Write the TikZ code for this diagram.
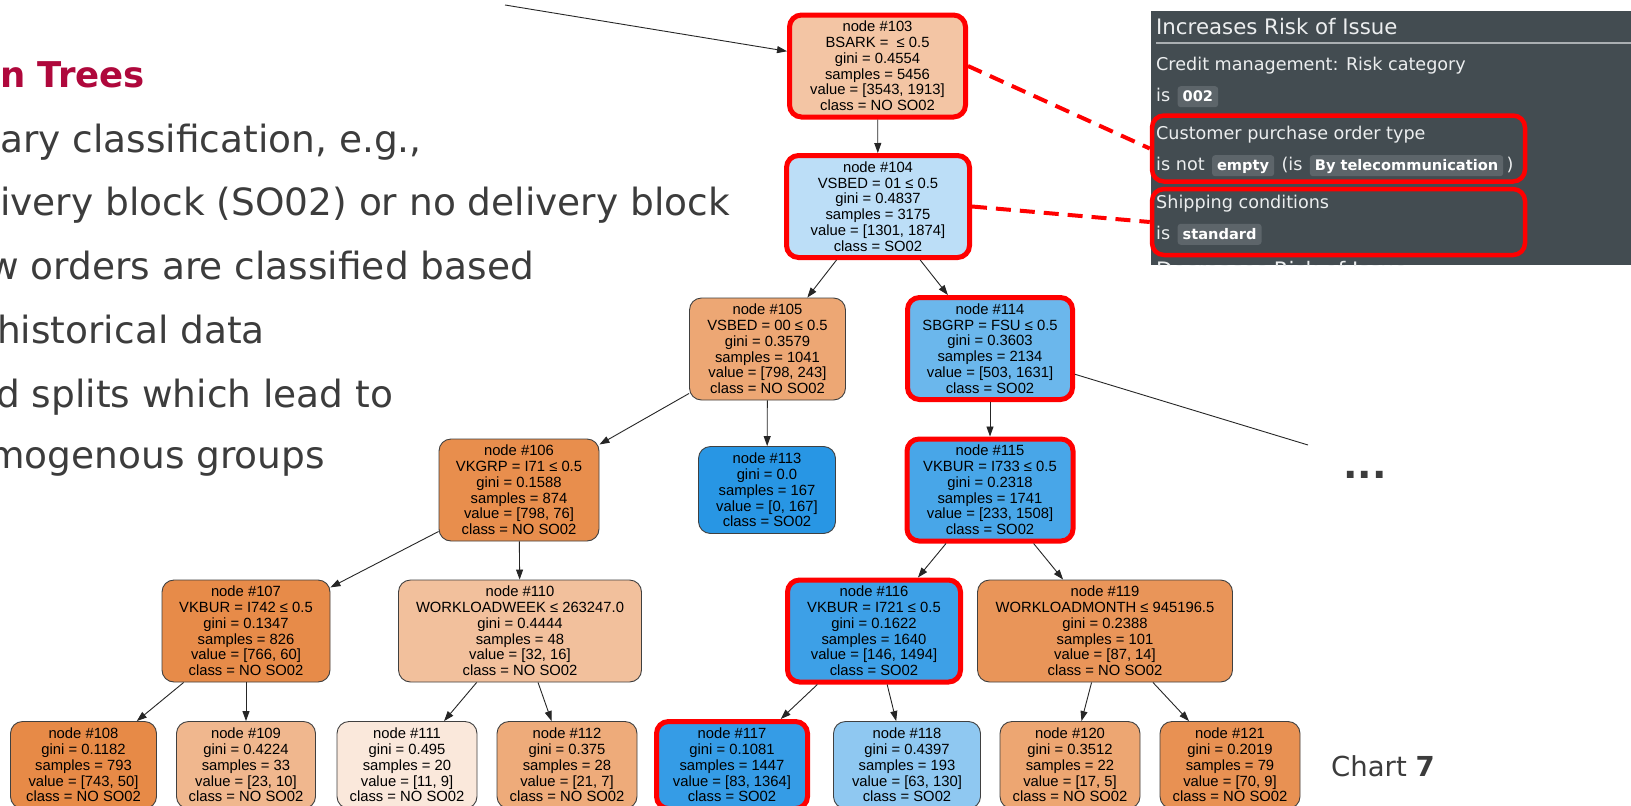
\documentclass[tikz,border=0pt]{standalone}
\usepackage{xcolor}
\usepackage{fontspec}
\setmainfont{Liberation Sans}
\newfontfamily\slidefont{DejaVu Sans}
\usepackage{tikz}
\usetikzlibrary{positioning,arrows.meta}
\definecolor{nocls}{RGB}{229,129,57}
\definecolor{socls}{RGB}{40,150,228}
\definecolor{slidered}{RGB}{175,8,60}
\definecolor{slidegray}{RGB}{60,60,60}
\definecolor{panelbg}{RGB}{67,76,81}
\definecolor{panelrule}{RGB}{170,175,178}
\definecolor{badgebg}{RGB}{93,101,106}
\definecolor{paneltext}{RGB}{236,238,239}
\newcommand{\nodeFont}{\fontsize{14.8}{15.8}\selectfont}

\begin{document}
\begin{tikzpicture}[x=1pt, y=-1pt,
			tnode/.style={draw=black!75, line width=0.9pt, rounded corners=12pt, align=center, inner sep=0pt, font=\nodeFont},
			splitnode/.style={tnode, minimum height=102pt},
			leafnode/.style={tnode, minimum height=87pt},
			hlnode/.style={draw=red, line width=5pt},
			branch/.style={-{Triangle[length=10pt,width=7pt]}, line width=0.9pt, black!85},
			linkdash/.style={red, line width=4pt, dash pattern=on 15pt off 9pt},
			slidetxt/.style={anchor=base west, inner sep=0pt, text=slidegray, font=\slidefont\fontsize{37.5}{44}\selectfont},
			slidehead/.style={anchor=base west, inner sep=0pt, text=slidered, font=\slidefont\bfseries\fontsize{35.5}{42}\selectfont},
			paneltxt/.style={anchor=base west, inner sep=0pt, text=paneltext, font=\slidefont\fontsize{17.6}{20}\selectfont},
			panelhead/.style={paneltxt, font=\slidefont\fontsize{21.3}{24}\selectfont},
			badge/.style={anchor=base west, fill=badgebg, text=white, rounded corners=3pt, inner xsep=5pt, inner ysep=3.5pt, text height=12pt, text depth=2pt, font=\slidefont\bfseries\fontsize{14.6}{16}\selectfont},
			hlbox/.style={draw=red, line width=4.5pt, rounded corners=12pt, inner sep=0pt, minimum width=373pt, minimum height=66pt},
		]

		\useasboundingbox (0,0) rectangle (1631,806);
		\clip (0,0) rectangle (1631,806);
		\fill[white] (0,0) rectangle (1631,806);

		% slide text
		\node[slidehead] (title) at (0,87)   {n Trees};
		\node[slidetxt]  (bl1)   at (0,152)  {ary classification, e.g.,};
		\node[slidetxt]  (bl2)   at (0,215)  {ivery block (SO02) or no delivery block};
		\node[slidetxt]  (bl3)   at (-12,279) {w orders are classified based};
		\node[slidetxt]  (bl4)   at (-3,343)  {historical data};
		\node[slidetxt]  (bl5)   at (-4,407) {d splits which lead to};
		\node[slidetxt]  (bl6)   at (-12,468) {mogenous groups};

		% tree
		\coordinate (rootin) at (505,5);
		\node[splitnode, fill=nocls!46, hlnode, minimum width=176pt] (n103) at (877.5,66)  {node \#103\\BSARK = \ ≤ 0.5\\gini = 0.4554\\samples = 5456\\value = [3543, 1913]\\class = NO SO02};
		\node[splitnode, fill=socls!31, hlnode, minimum width=183pt] (n104) at (878,206.5)  {node \#104\\VSBED = 01 ≤ 0.5\\gini = 0.4837\\samples = 3175\\value = [1301, 1874]\\class = SO02};
		\node[splitnode, fill=nocls!70, minimum width=156pt]         (n105) at (767.5,349)  {node \#105\\VSBED = 00 ≤ 0.5\\gini = 0.3579\\samples = 1041\\value = [798, 243]\\class = NO SO02};
		\node[splitnode, fill=socls!69, hlnode, minimum width=165pt] (n114) at (990,348.5)  {node \#114\\SBGRP = FSU ≤ 0.5\\gini = 0.3603\\samples = 2134\\value = [503, 1631]\\class = SO02};
		\node[splitnode, fill=nocls!90, minimum width=160pt]         (n106) at (519,490)    {node \#106\\VKGRP = I71 ≤ 0.5\\gini = 0.1588\\samples = 874\\value = [798, 76]\\class = NO SO02};
		\node[leafnode, fill=socls, minimum width=137pt]             (n113) at (767,490)    {node \#113\\gini = 0.0\\samples = 167\\value = [0, 167]\\class = SO02};
		\node[splitnode, fill=socls!85, hlnode, minimum width=166pt] (n115) at (990,490)    {node \#115\\VKBUR = I733 ≤ 0.5\\gini = 0.2318\\samples = 1741\\value = [233, 1508]\\class = SO02};
		\node[splitnode, fill=nocls!92, minimum width=168pt]         (n107) at (246,631)    {node \#107\\VKBUR = I742 ≤ 0.5\\gini = 0.1347\\samples = 826\\value = [766, 60]\\class = NO SO02};
		\node[splitnode, fill=nocls!50, minimum width=243pt]         (n110) at (520,631)    {node \#110\\WORKLOADWEEK ≤ 263247.0\\gini = 0.4444\\samples = 48\\value = [32, 16]\\class = NO SO02};
		\node[splitnode, fill=socls!90, hlnode, minimum width=173pt] (n116) at (874,631)    {node \#116\\VKBUR = I721 ≤ 0.5\\gini = 0.1622\\samples = 1640\\value = [146, 1494]\\class = SO02};
		\node[splitnode, fill=nocls!84, minimum width=255pt]         (n119) at (1105,631)   {node \#119\\WORKLOADMONTH ≤ 945196.5\\gini = 0.2388\\samples = 101\\value = [87, 14]\\class = NO SO02};
		\node[leafnode, fill=nocls!93, minimum width=146pt]          (n108) at (83.5,765)   {node \#108\\gini = 0.1182\\samples = 793\\value = [743, 50]\\class = NO SO02};
		\node[leafnode, fill=nocls!57, minimum width=139pt]          (n109) at (246,765)    {node \#109\\gini = 0.4224\\samples = 33\\value = [23, 10]\\class = NO SO02};
		\node[leafnode, fill=nocls!18, minimum width=140pt]          (n111) at (407,765)    {node \#111\\gini = 0.495\\samples = 20\\value = [11, 9]\\class = NO SO02};
		\node[leafnode, fill=nocls!67, minimum width=140pt]          (n112) at (567,765)    {node \#112\\gini = 0.375\\samples = 28\\value = [21, 7]\\class = NO SO02};
		\node[leafnode, fill=socls!94, hlnode, minimum width=151pt]  (n117) at (732,765)    {node \#117\\gini = 0.1081\\samples = 1447\\value = [83, 1364]\\class = SO02};
		\node[leafnode, fill=socls!52, minimum width=147pt]          (n118) at (907,765)    {node \#118\\gini = 0.4397\\samples = 193\\value = [63, 130]\\class = SO02};
		\node[leafnode, fill=nocls!71, minimum width=140pt]          (n120) at (1070,765)   {node \#120\\gini = 0.3512\\samples = 22\\value = [17, 5]\\class = NO SO02};
		\node[leafnode, fill=nocls!87, minimum width=140pt]          (n121) at (1230,765)   {node \#121\\gini = 0.2019\\samples = 79\\value = [70, 9]\\class = NO SO02};
		\coordinate (moreend) at (1308,445);

		\draw[branch] (rootin) -- (n103);
		\draw[branch] (n103) -- (n104);
		\draw[branch] (n104) -- (n105);
		\draw[branch] (n104) -- (n114);
		\draw[branch] (n105) -- (n106);
		\draw[branch] (n105) -- (n113);
		\draw[branch] (n114) -- (n115);
		\draw[line width=0.9pt, black!85] (n114) -- (moreend);
		\draw[branch] (n106) -- (n107);
		\draw[branch] (n106) -- (n110);
		\draw[branch] (n115) -- (n116);
		\draw[branch] (n115) -- (n119);
		\draw[branch] (n107) -- (n108);
		\draw[branch] (n107) -- (n109);
		\draw[branch] (n110) -- (n111);
		\draw[branch] (n110) -- (n112);
		\draw[branch] (n116) -- (n117);
		\draw[branch] (n116) -- (n118);
		\draw[branch] (n119) -- (n120);
		\draw[branch] (n119) -- (n121);

		\node[anchor=base west, inner sep=0pt, text=slidegray, font=\slidefont\bfseries\fontsize{38}{44}\selectfont] (dots) at (1343,478) {...};
		\node[anchor=base west, inner sep=0pt, text=slidegray, font=\slidefont\fontsize{27.5}{32}\selectfont] (chart) at (1331,776) {Chart \textbf{7}};

		% explanation panel
		\node[fill=panelbg, anchor=north west, inner sep=0pt, minimum width=480pt, minimum height=254pt] (panel) at (1151,11) {};
		\begin{scope}
			\clip (1151,11) rectangle (1631,265);
			\node[panelhead] (dechead) at (1156,277) {Decreases Risk of Issue};
		\end{scope}
		\node[panelhead] (inchead) at (1156,34) {Increases Risk of Issue};
		\draw[panelrule, line width=1.5pt] (1156,43) -- (panel.east |- 0,43);
		\node[paneltxt] (credit) at (1156,70.7) {Credit management: Risk category};
		\node[paneltxt] (is1) at (1156,101.7) {is};
		\node[badge] (b002) at ([xshift=7pt]is1.base east) {002};
		\node[paneltxt] (cpo) at (1156,139.3) {Customer purchase order type};
		\node[paneltxt] (isnot) at (1156,170.7) {is not};
		\node[badge] (bempty) at ([xshift=7pt]isnot.base east) {empty};
		\node[paneltxt] (isopen) at ([xshift=7pt]bempty.base east) {(is};
		\node[badge] (btele) at ([xshift=7pt]isopen.base east) {By telecommunication};
		\node[paneltxt] (isclose) at ([xshift=3pt]btele.base east) {)};
		\node[paneltxt] (ship) at (1156,208) {Shipping conditions};
		\node[paneltxt] (is3) at (1156,239.3) {is};
		\node[badge] (bstd) at ([xshift=7pt]is3.base east) {standard};

		\node[hlbox] (ordbox) at (1338.5,148.5) {};
		\node[hlbox] (shipbox) at (1338.5,222) {};

		\draw[linkdash] (n103.east) -- (ordbox.west);
		\draw[linkdash] (n104.east) -- (shipbox.west);

\end{tikzpicture}
\end{document}
